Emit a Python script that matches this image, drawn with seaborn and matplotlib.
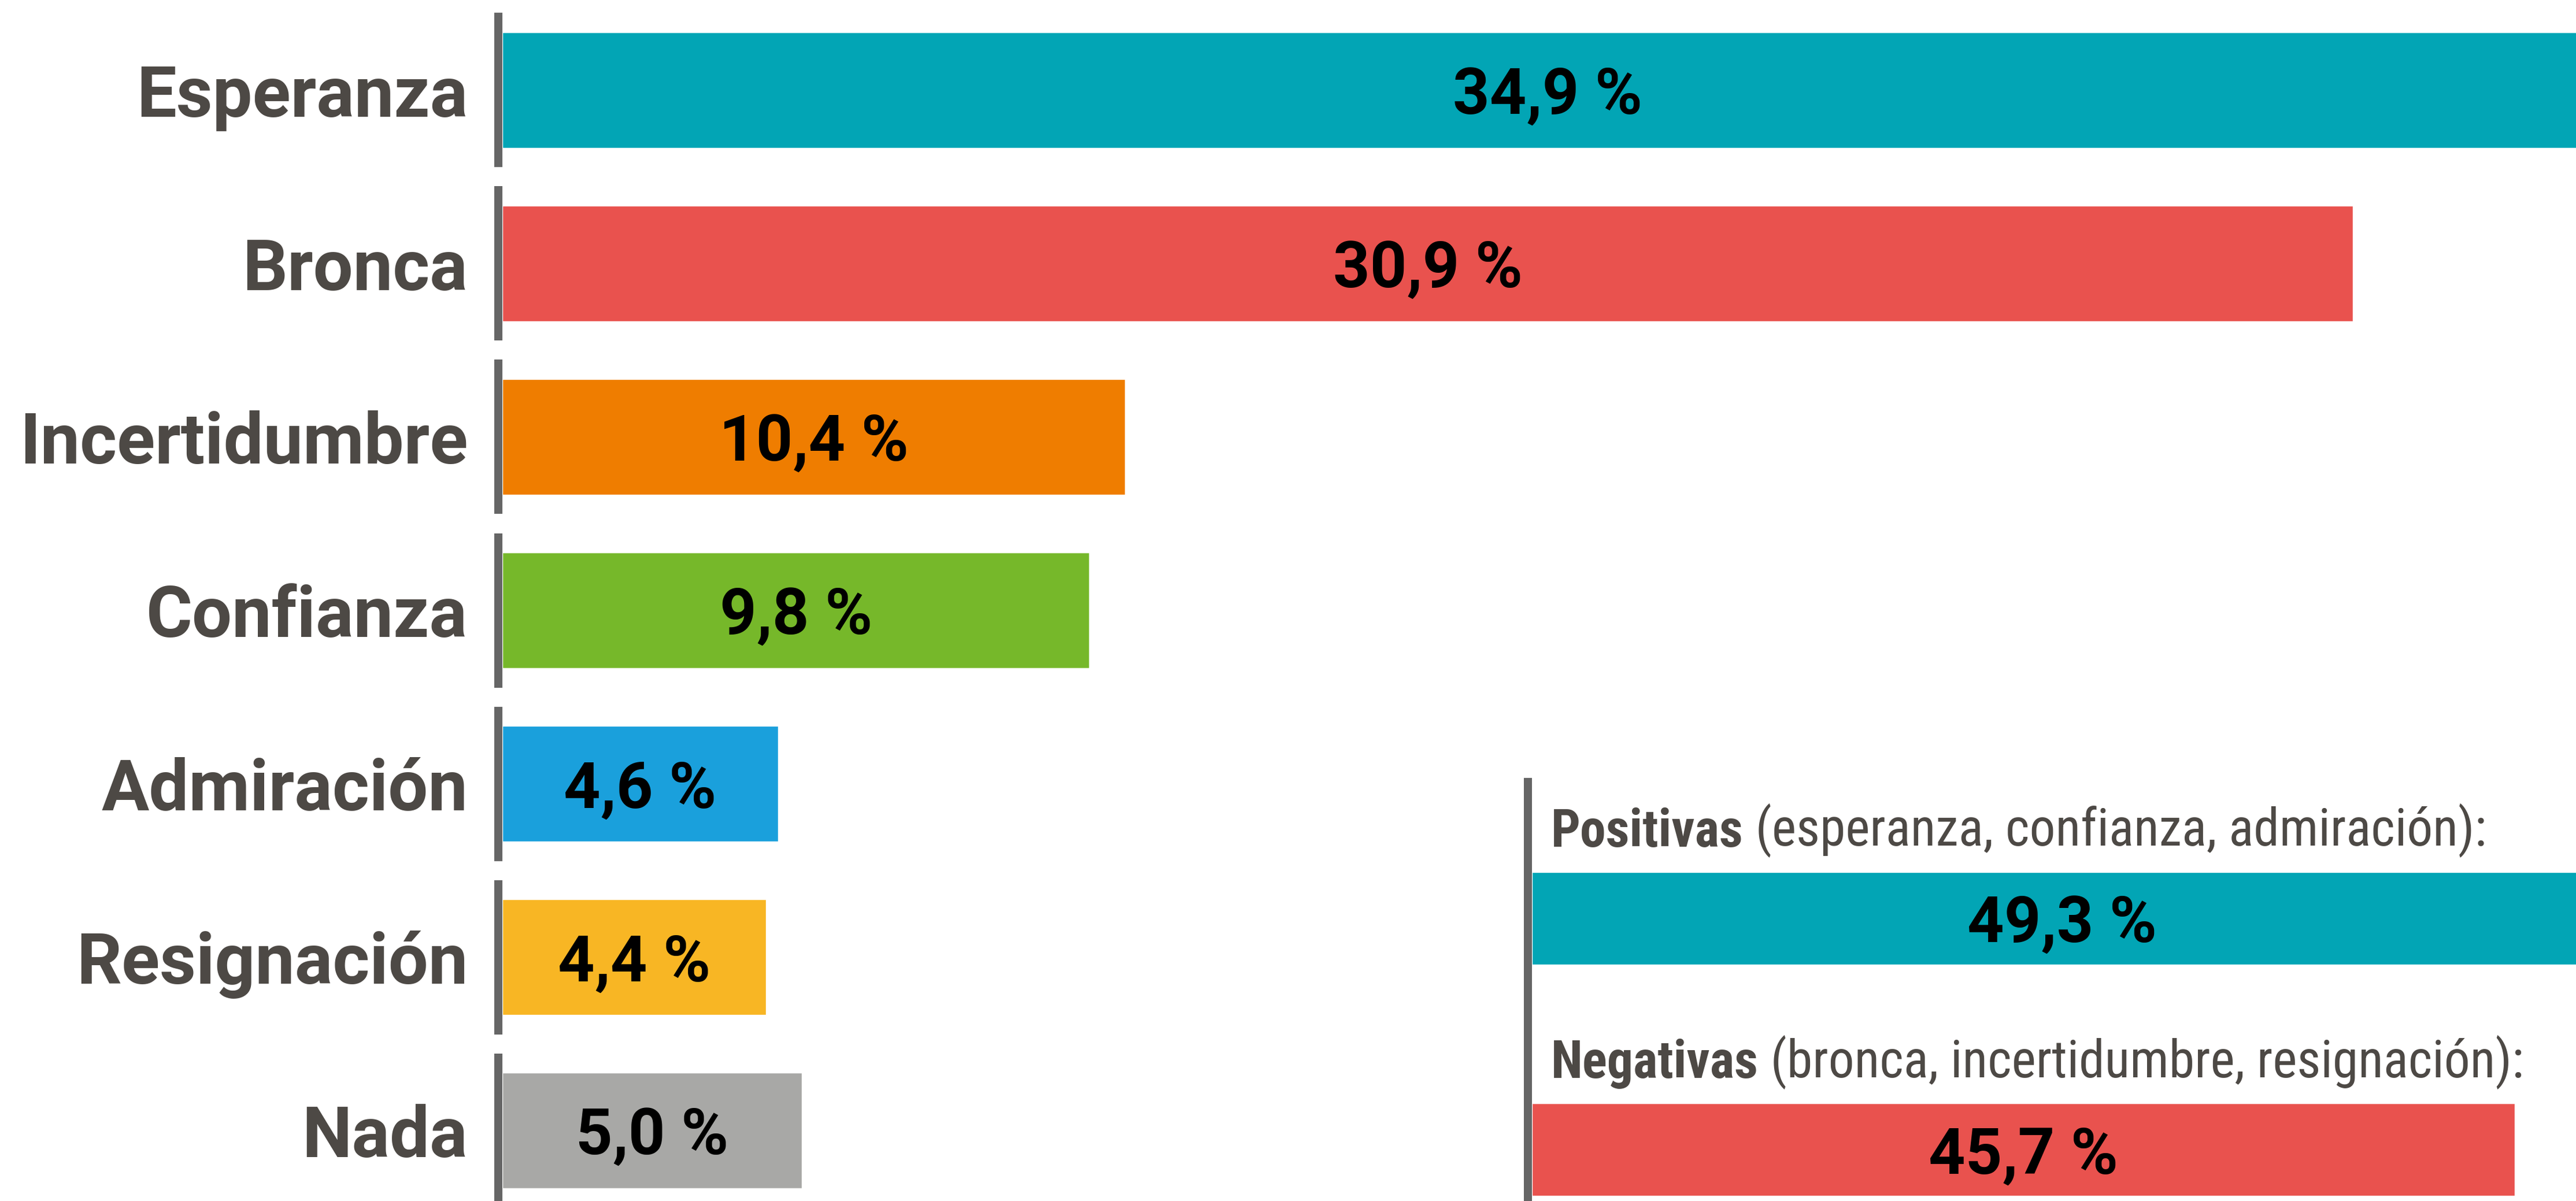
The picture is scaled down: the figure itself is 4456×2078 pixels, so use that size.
import matplotlib
matplotlib.use('Agg')
import matplotlib.pyplot as plt
import seaborn as sns
import pandas as pd

# Data
emociones = ['Esperanza', 'Bronca', 'Incertidumbre', 'Confianza', 'Admiración', 'Resignación', 'Nada']
porcentajes = [34.9, 30.9, 10.4, 9.8, 4.6, 4.4, 5.0]
colores = ['#02a5b5', '#e9524e', '#ef7d00', '#76b82a', '#1aa0dc', '#f8b624', '#a8a8a6']

grupos = ['Positivas', 'Negativas']
grupos_detalle = ['(esperanza, confianza, admiración):', '(bronca, incertidumbre, resignación):']
grupos_valores = [49.3, 45.7]
grupos_colores = ['#02a5b5', '#e9524e']

LINEA = '#666666'
TEXTO = '#4d4945'

sns.set_theme(style='white')
plt.rcParams['font.family'] = ['Roboto', 'DejaVu Sans']
# narrow face for the inset headers if one is around
HEADER_FONT = ['Roboto Condensed', 'Liberation Sans Narrow', 'Roboto', 'DejaVu Sans']

def fmt(v):
    return f'{v:.1f} %'.replace('.', ',')

W, H = 4456, 2078
fig = plt.figure(figsize=(W / 100, H / 100), dpi=100)

# 1. Main bar chart
ax = fig.add_axes([862 / W, 0, 1 - 862 / W, 1])
df = pd.DataFrame({'emocion': emociones, 'valor': porcentajes})
sns.barplot(data=df, x='valor', y='emocion', hue='emocion', palette=colores,
            legend=False, width=0.667, saturation=1, ax=ax)
ax.set_xlim(-7 / 103.6, (W - 869) / 103.6)
ax.set_ylim(len(emociones) - 1 + 122 / 300, -156 / 300)
for s in ax.spines.values():
    s.set_visible(False)
ax.set_xlabel('')
ax.set_ylabel('')
ax.set_xticks([])
ax.tick_params(axis='y', length=0, pad=38)
for lbl in ax.get_yticklabels():
    lbl.set_fontsize(88)
    lbl.set_fontweight('bold')
    lbl.set_color(TEXTO)

# segmented axis line, one piece per bar
ax.vlines([0] * len(emociones), [i - 0.445 for i in range(len(emociones))],
          [i + 0.445 for i in range(len(emociones))], colors=LINEA,
          linewidth=10.08, transform=ax.get_yaxis_transform(), clip_on=False)

for i, v in enumerate(porcentajes):
    ax.text(v / 2, i, fmt(v), ha='center', va='center_baseline',
            fontsize=80, fontweight='bold', color='black')

# 2. Inset: positive vs negative
ax2 = fig.add_axes([2643 / W, 0, 1 - 2643 / W, (H - 1353) / H])
ax2.patch.set_alpha(0)
dg = pd.DataFrame({'grupo': grupos, 'valor': grupos_valores})
sns.barplot(data=dg, x='valor', y='grupo', hue='grupo', palette=grupos_colores,
            legend=False, width=0.4, saturation=1, ax=ax2)
ax2.set_xlim(-7 / 37.2, (W - 2650) / 37.2)
ax2.set_ylim(1 + 89 / 400, -236 / 400)
for k, s in ax2.spines.items():
    s.set_visible(k == 'left')
ax2.spines['left'].set_color(LINEA)
ax2.spines['left'].set_linewidth(10.08)
ax2.set_xticks([])
ax2.set_yticks([])
ax2.set_xlabel('')
ax2.set_ylabel('')

headers = []
for i, (g, d, v) in enumerate(zip(grupos, grupos_detalle, grupos_valores)):
    t = ax2.text(0.887, i - 0.31, g, ha='left', va='baseline', family=HEADER_FONT,
                 fontsize=56, fontweight='bold', color=TEXTO)
    a = ax2.annotate(' ' + d, xy=(1, 0), xycoords=t, ha='left', va='bottom',
                     family=HEADER_FONT, fontsize=56, color=TEXTO)
    headers.append((t, a))
    ax2.text(v / 2, i, fmt(v), ha='center', va='center_baseline',
             fontsize=80, fontweight='bold', color='black')

# fit the header size so the "Negativas" line spans about 1680 px like the original
fig.canvas.draw()
r = fig.canvas.get_renderer()
t, a = headers[1]
ancho = a.get_window_extent(r).x1 - t.get_window_extent(r).x0
escala = 1680 / ancho
for t, a in headers:
    t.set_fontsize(56 * escala)
    a.set_fontsize(56 * escala)

fig.savefig('out.png', dpi=100, facecolor='white')
